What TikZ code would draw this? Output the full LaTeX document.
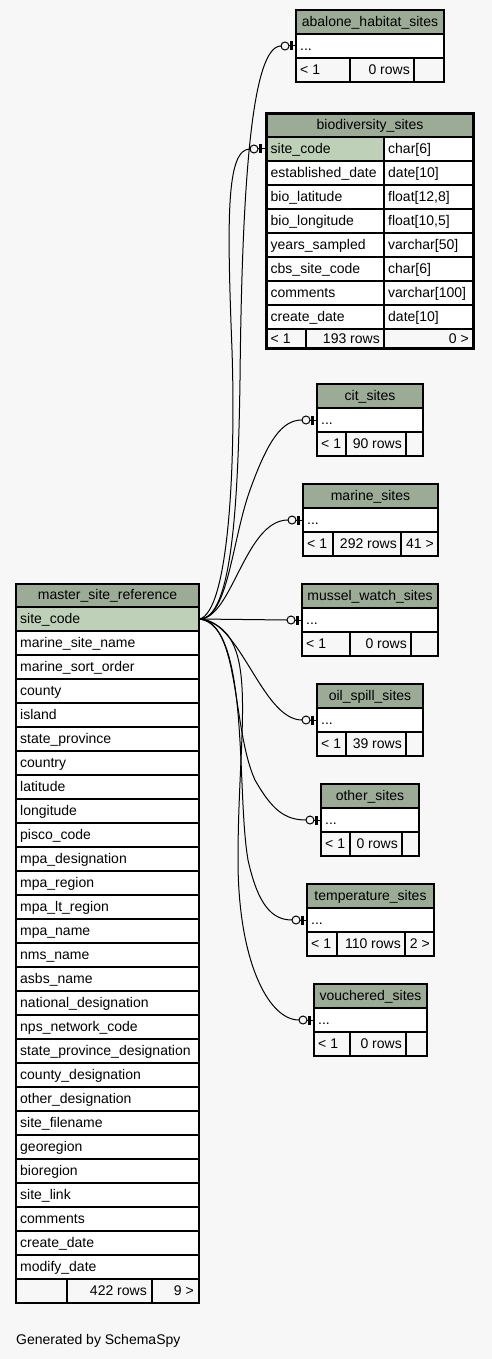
\documentclass[tikz,border=0pt]{standalone}
\usepackage{fontspec}
\setmainfont{Liberation Sans}
\usetikzlibrary{calc}
\definecolor{bg}{HTML}{F7F7F7}
\definecolor{hdr}{HTML}{9BAB96}
\definecolor{pk}{HTML}{BED1B8}
\tikzset{
  cell/.style={draw=black, line width=1.1pt},
  ctl/.style={anchor=west},
  ctr/.style={anchor=east},
  cth/.style={anchor=center},
  conn/.style={draw=black, line width=1pt},
}
\newcommand\smalltbl[9]{%
  \fill[hdr] (#2,#4) rectangle (#3,#4+24);
  \fill[white] (#2,#4+24) rectangle (#3,#4+48);
  \fill[bg] (#2,#4+48) rectangle (#3,#4+72);
  \draw[cell] (#2,#4) rectangle (#3,#4+72);
  \draw[cell] (#2,#4+24) -- (#3,#4+24) (#2,#4+48) -- (#3,#4+48)
              (#5,#4+48) -- (#5,#4+72) (#6,#4+48) -- (#6,#4+72);
  \node[cth] (#1-h) at ({(#2+#3)/2},#4+12) {#7};
  \node[ctl] (#1-r) at (#2+4,#4+36) {...};
  \node[ctl] (#1-f1) at (#2+4,#4+60) {< 1};
  \node[ctr] (#1-f2) at (#6-4,#4+60) {#8};
  \node[ctr] (#1-f3) at (#3-4,#4+60) {#9};
  \coordinate (#1-c) at (#2-15,#4+36);
  \coordinate (#1-in) at (#2,#4+36);
}
\newcommand\relmark[1]{%
  \draw[conn] (#1-c) -- (#1-in);
  \fill[black] ($(#1-in)+(-6,-4.5)$) rectangle ($(#1-in)+(-3,4.5)$);
  \filldraw[fill=bg, draw=black, line width=1pt] ($(#1-c)+(4,0)$) circle[radius=4];
}
\begin{document}
\begin{tikzpicture}[x=1pt,y=-1pt,
  every node/.style={font=\fontsize{14}{16}\selectfont, inner sep=0pt, text height=10.5pt, text depth=2pt}]
\useasboundingbox (0,0) rectangle (492,1359);
\fill[bg] (0,0) rectangle (492,1359);

% ---------- master_site_reference ----------
\fill[hdr] (16,584) rectangle (199,607);
\fill[pk] (16,607) rectangle (199,631);
\fill[white] (16,631) rectangle (199,1279);
\fill[bg] (16,1279) rectangle (199,1303);
\node[cth] (msr-h) at (107.5,595.5) {master\_site\_reference};
\node[ctl] (msr-0) at (20,619) {site\_code};
\foreach \n [count=\i] in {marine\_site\_name, marine\_sort\_order, county, island,
  state\_province, country, latitude, longitude, pisco\_code, mpa\_designation,
  mpa\_region, mpa\_lt\_region, mpa\_name, nms\_name, asbs\_name,
  national\_designation, nps\_network\_code, state\_province\_designation,
  county\_designation, other\_designation, site\_filename, georegion, bioregion,
  site\_link, comments, create\_date, modify\_date}{
  \node[ctl] (msr-\i) at (20,619+24*\i) {\n};
  \draw[cell] (16,607+24*\i) -- (199,607+24*\i);
}
\draw[cell] (16,607) -- (199,607) (16,1279) -- (199,1279);
\draw[cell] (67,1279) -- (67,1303) (152,1279) -- (152,1303);
\draw[cell] (16,584) rectangle (199,1303);
\node[ctr] (msr-f2) at (147,1291) {422 rows};
\node[ctr] (msr-f3) at (194,1291) {9 >};
\coordinate (m) at (199.5,619);

% ---------- biodiversity_sites ----------
\fill[hdr] (266.5,113.5) rectangle (473.5,137);
\fill[pk] (266.5,137) rectangle (384,161);
\fill[white] (384,137) rectangle (473.5,161);
\fill[white] (266.5,161) rectangle (473.5,329);
\fill[bg] (266.5,329) rectangle (473.5,348.5);
\node[cth] (bio-h) at (370,125.5) {biodiversity\_sites};
\foreach \n/\t [count=\i from 0] in {site\_code/char[6], established\_date/date[10],
  bio\_latitude/{float[12,8]}, bio\_longitude/{float[10,5]}, years\_sampled/varchar[50],
  cbs\_site\_code/char[6], comments/varchar[100], create\_date/date[10]}{
  \node[ctl] (bio-n\i) at (270.5,149+24*\i) {\n};
  \node[ctl] (bio-t\i) at (388,149+24*\i) {\t};
  \draw[cell] (266.5,137+24*\i) -- (473.5,137+24*\i);
}
\draw[cell] (266.5,329) -- (473.5,329);
\draw[cell] (384,137) -- (384,348.5) (306,329) -- (306,348.5);
\node[ctl] (bio-f1) at (270.5,339.5) {< 1};
\node[ctr] (bio-f2) at (380,339.5) {193 rows};
\node[ctr] (bio-f3) at (469,339.5) {0 >};
\draw[draw=black, line width=3pt] (266.5,113.5) rectangle (473.5,348.5);
\coordinate (bio-in) at (265,149);
\coordinate (bio-c) at (250,149);

% ---------- small tables ----------
\smalltbl{abal}{296}{444}{10}{350}{414}{abalone\_habitat\_sites}{0 rows}{}
\smalltbl{cit}{317}{423}{384}{346}{406}{cit\_sites}{90 rows}{}
\smalltbl{marine}{303}{438}{484}{333}{401}{marine\_sites}{292 rows}{41 >}
\smalltbl{mussel}{302}{438}{584}{350}{411}{mussel\_watch\_sites}{0 rows}{}
\smalltbl{oil}{317}{423}{684}{346}{406}{oil\_spill\_sites}{39 rows}{}
\smalltbl{other}{321}{419}{784}{350}{402}{other\_sites}{0 rows}{}
\smalltbl{temp}{307}{434}{884}{337}{405}{temperature\_sites}{110 rows}{2 >}
\smalltbl{vouch}{314}{427}{984}{350}{406}{vouchered\_sites}{0 rows}{}

% ---------- connectors ----------
\draw[conn] (m) .. controls (230,619) and (238,520) .. (240,380)
  .. controls (242,180) and (252,46) .. (abal-c);
\draw[conn] (m) .. controls (228,612) and (236,470) .. (232,350)
  .. controls (227,220) and (226,149) .. (bio-c);
\draw[conn] (m) .. controls (228,619) and (232,540) .. (250,490)
  .. controls (268,440) and (282,420) .. (cit-c);
\draw[conn] (m) .. controls (232,619) and (245,520) .. (marine-c);
\draw[conn] (m) -- (mussel-c);
\draw[conn] (m) .. controls (240,619) and (262,720) .. (oil-c);
\draw[conn] (m) .. controls (240,622) and (232,730) .. (255,780)
  .. controls (272,810) and (285,820) .. (other-c);
\draw[conn] (m) .. controls (250,625) and (236,790) .. (248,860)
  .. controls (258,905) and (272,920) .. (temp-c);
\draw[conn] (m) .. controls (262,630) and (238,720) .. (238,860)
  .. controls (238,960) and (268,1020) .. (vouch-c);

\foreach \t in {abal,bio,cit,marine,mussel,oil,other,temp,vouch}{\relmark{\t}}

\node[anchor=base west] (gen) at (16,1344) {Generated by SchemaSpy};
\end{tikzpicture}
\end{document}
